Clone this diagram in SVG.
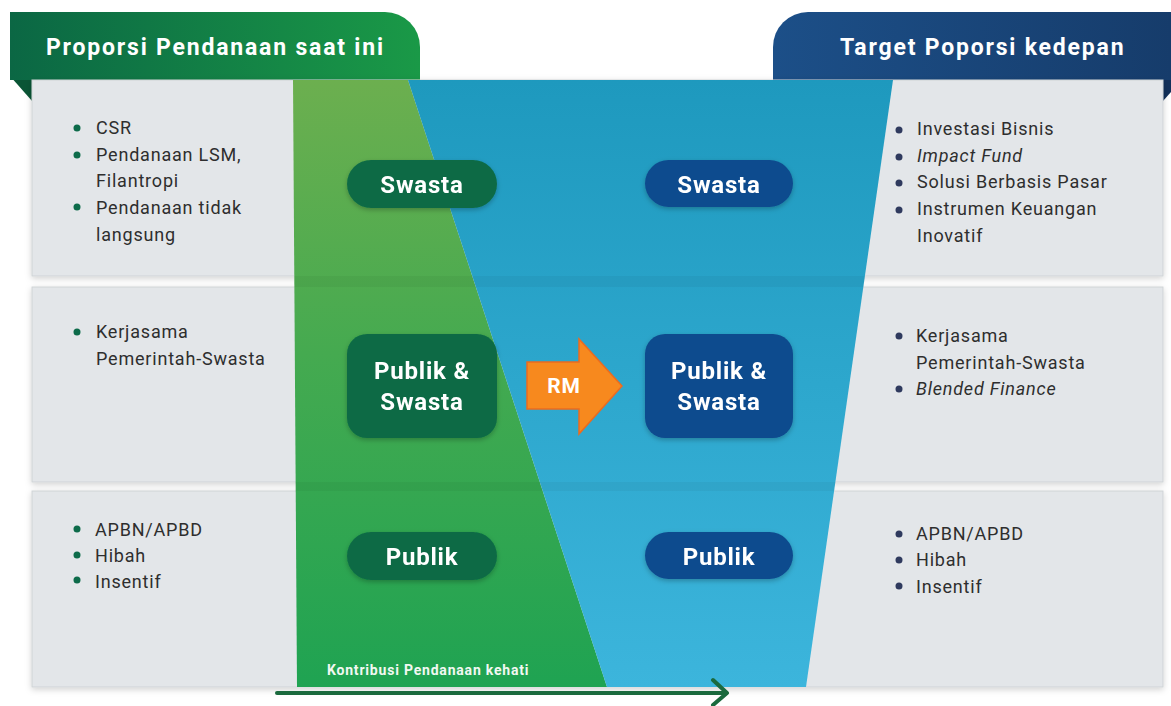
<svg xmlns="http://www.w3.org/2000/svg" width="1171" height="706" viewBox="0 0 1171 706">
<defs>
<style>
.body{font-family:Roboto,"Liberation Sans",sans-serif;font-size:18px;letter-spacing:0.8px;fill:#2e2e2e}
.it{font-style:italic}
.hdr{font-family:Roboto,"Liberation Sans",sans-serif;font-size:23px;letter-spacing:1.8px;font-weight:bold;fill:#ffffff}
.pill{font-family:Roboto,"Liberation Sans",sans-serif;font-size:24px;letter-spacing:0.8px;font-weight:bold;fill:#ffffff;text-anchor:middle}
.small{font-family:Roboto,"Liberation Sans",sans-serif;font-size:14px;letter-spacing:0.8px;font-weight:bold;fill:#f2f8f2}
.panel{fill:#e3e6e9;stroke:#cfd3d6;stroke-width:1}
.g{fill:#0b6b45}
.b{fill:#0f4c8e}
.bg{fill:#0d6b4a}
.bb{fill:#2f3a5e}
</style>
<linearGradient id="hl" x1="0" y1="0" x2="1" y2="0">
<stop offset="0" stop-color="#0b6744"/><stop offset="1" stop-color="#1a9947"/>
</linearGradient>
<linearGradient id="hr" x1="0" y1="0" x2="1" y2="0">
<stop offset="0" stop-color="#1c4f88"/><stop offset="1" stop-color="#163c6b"/>
</linearGradient>
<linearGradient id="gg" x1="0" y1="0" x2="0" y2="1">
<stop offset="0" stop-color="#6caf4f"/><stop offset="0.45" stop-color="#45aa50"/><stop offset="1" stop-color="#1fa352"/>
</linearGradient>
<linearGradient id="bl" x1="0" y1="0" x2="0" y2="1">
<stop offset="0" stop-color="#1e99be"/><stop offset="1" stop-color="#3cb5dc"/>
</linearGradient>
<clipPath id="funnelclip">
<polygon points="293,80 893,80 806,687 297,687"/>
</clipPath>
<filter id="sh" x="-10%" y="-10%" width="120%" height="130%">
<feDropShadow dx="0" dy="2" stdDeviation="3" flood-color="#000" flood-opacity="0.18"/>
</filter>
<filter id="ps" x="-20%" y="-20%" width="140%" height="160%">
<feDropShadow dx="0" dy="2" stdDeviation="2.5" flood-color="#000" flood-opacity="0.25"/>
</filter>
</defs>
<rect width="1171" height="706" fill="#ffffff"/>

<g id="header-left">
<polygon points="10,76 32,76 32,101" fill="#0a5535"/>
<path d="M10,12 H385 A35,35 0 0 1 420,47 V80 H10 Z" fill="url(#hl)"/>
<text class="hdr" x="46" y="55">Proporsi Pendanaan saat ini</text>
</g>
<g id="header-right">
<polygon points="1163,76 1171,76 1171,92 1163,101" fill="#12305a"/>
<path d="M1171,12 H808 A35,35 0 0 0 773,47 V80 H1171 Z" fill="url(#hr)"/>
<text class="hdr" x="840" y="55">Target Poporsi kedepan</text>
</g>

<g id="panels" filter="url(#sh)">
<rect id="row-swasta" class="panel" x="32" y="80" width="1131" height="196"/>
<rect id="row-publik-swasta" class="panel" x="32" y="287" width="1131" height="195"/>
<rect id="row-publik" class="panel" x="32" y="491" width="1131" height="196"/>
</g>

<g id="funnel">
<polygon id="green-area" points="293,80 408,80 607,687 297,687" fill="url(#gg)"/>
<polygon id="blue-area" points="408,80 893,80 806,687 607,687" fill="url(#bl)"/>
<g clip-path="url(#funnelclip)">
<rect x="280" y="276" width="640" height="11" fill="#000" opacity="0.04"/>
<rect x="280" y="482" width="640" height="9" fill="#000" opacity="0.04"/>
</g>
</g>

<g id="list-left-1">
<circle class="bg" cx="77" cy="128" r="3.5"/>
<circle class="bg" cx="77" cy="155" r="3.5"/>
<circle class="bg" cx="77" cy="207" r="3.5"/>
<text class="body" x="96" y="134">CSR</text>
<text class="body" x="96" y="161">Pendanaan LSM,</text>
<text class="body" x="96" y="187">Filantropi</text>
<text class="body" x="96" y="214">Pendanaan tidak</text>
<text class="body" x="96" y="241">langsung</text>
</g>
<g id="list-left-2">
<circle class="bg" cx="77" cy="332" r="3.5"/>
<text class="body" x="96" y="338">Kerjasama</text>
<text class="body" x="96" y="365">Pemerintah-Swasta</text>
</g>
<g id="list-left-3">
<circle class="bg" cx="77" cy="529" r="3.5"/>
<circle class="bg" cx="77" cy="555" r="3.5"/>
<circle class="bg" cx="77" cy="580" r="3.5"/>
<text class="body" x="95" y="536">APBN/APBD</text>
<text class="body" x="95" y="562">Hibah</text>
<text class="body" x="95" y="588">Insentif</text>
</g>

<g id="list-right-1">
<circle class="bb" cx="899" cy="130" r="3.5"/>
<circle class="bb" cx="899" cy="157" r="3.5"/>
<circle class="bb" cx="899" cy="183" r="3.5"/>
<circle class="bb" cx="899" cy="210" r="3.5"/>
<text class="body" x="917" y="135">Investasi Bisnis</text>
<text class="body it" x="917" y="162">Impact Fund</text>
<text class="body" x="917" y="188">Solusi Berbasis Pasar</text>
<text class="body" x="917" y="215">Instrumen Keuangan</text>
<text class="body" x="917" y="242">Inovatif</text>
</g>
<g id="list-right-2">
<circle class="bb" cx="899" cy="336" r="3.5"/>
<circle class="bb" cx="899" cy="389" r="3.5"/>
<text class="body" x="916" y="342">Kerjasama</text>
<text class="body" x="916" y="369">Pemerintah-Swasta</text>
<text class="body it" x="916" y="395">Blended Finance</text>
</g>
<g id="list-right-3">
<circle class="bb" cx="899" cy="534" r="3.5"/>
<circle class="bb" cx="899" cy="560" r="3.5"/>
<circle class="bb" cx="899" cy="586" r="3.5"/>
<text class="body" x="916" y="540">APBN/APBD</text>
<text class="body" x="916" y="566">Hibah</text>
<text class="body" x="916" y="593">Insentif</text>
</g>

<g id="pill-left-swasta" filter="url(#ps)">
<rect class="g" x="347" y="160" width="150" height="48" rx="24"/>
<text class="pill" x="422" y="193">Swasta</text>
</g>
<g id="pill-left-publik-swasta" filter="url(#ps)">
<rect class="g" x="347" y="334" width="150" height="104" rx="20"/>
<text class="pill" x="422" y="379">Publik &amp;</text>
<text class="pill" x="422" y="410">Swasta</text>
</g>
<g id="pill-left-publik" filter="url(#ps)">
<rect class="g" x="347" y="532" width="150" height="48" rx="24"/>
<text class="pill" x="422" y="565">Publik</text>
</g>
<g id="pill-right-swasta" filter="url(#ps)">
<rect class="b" x="645" y="160" width="148" height="47" rx="23.5"/>
<text class="pill" x="719" y="193">Swasta</text>
</g>
<g id="pill-right-publik-swasta" filter="url(#ps)">
<rect class="b" x="645" y="334" width="148" height="104" rx="20"/>
<text class="pill" x="719" y="379">Publik &amp;</text>
<text class="pill" x="719" y="410">Swasta</text>
</g>
<g id="pill-right-publik" filter="url(#ps)">
<rect class="b" x="645" y="532" width="148" height="47" rx="23.5"/>
<text class="pill" x="719" y="565">Publik</text>
</g>

<g id="rm-arrow">
<polygon points="527,362 579,362 579,339 622,386 579,434 579,409 527,409" fill="#f7891e" stroke="#ec6b1f" stroke-width="1.5" stroke-linejoin="miter"/>
<text class="pill" x="564" y="393" style="font-size:21px">RM</text>
</g>

<g id="connectors">
<line x1="277" y1="693" x2="726" y2="693" stroke="#1b6a3e" stroke-width="4" stroke-linecap="round"/>
<polyline points="713,680 727,693 713,705" fill="none" stroke="#1b6a3e" stroke-width="4" stroke-linecap="round" stroke-linejoin="round"/>
<text class="small" x="327" y="675">Kontribusi Pendanaan kehati</text>
</g>
</svg>
